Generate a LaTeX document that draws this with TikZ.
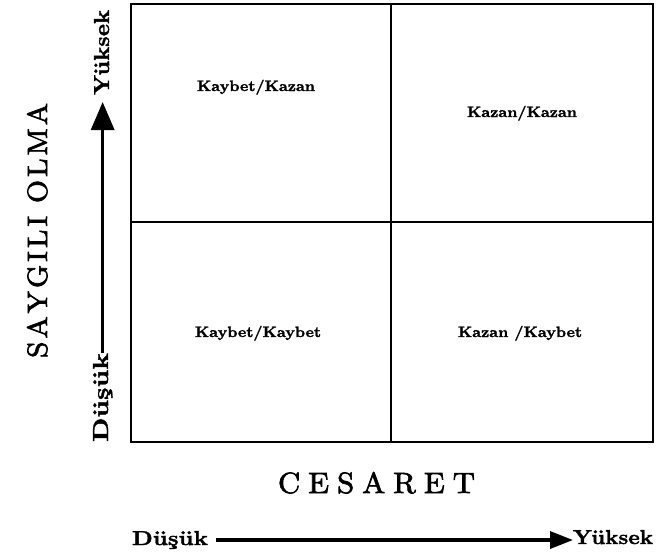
\documentclass[tikz,border=0pt]{standalone}
\usepackage{fontspec}
\usetikzlibrary{arrows.meta}
\newfontfamily\heavyfont{lmroman10-bold.otf}[FakeBold=1.6]
\newfontfamily\titlefont{lmroman10-regular.otf}[FakeBold=2.2]
\begin{document}
\begin{tikzpicture}[x=1pt,y=-1pt,
  frame/.style={line width=2pt},
  quad/.style={inner sep=0pt, anchor=base, font=\fontsize{15}{15}\selectfont\heavyfont},
  lbl/.style={inner sep=0pt, outer sep=0pt},
  haxis/.style={line width=3.3pt, -{Triangle[length=23pt,width=17pt]}},
  vaxis/.style={line width=3.3pt, -{Triangle[length=28pt,width=23pt]}},
]
\useasboundingbox (0,0) rectangle (656,554);
% grid
\draw[frame] (131,4) rectangle (653,442);
\draw[frame] (391,4) -- (391,442);
\draw[frame] (131,222) -- (653,222);
% quadrant labels
\node[quad] (q1) at (256,91) {\scalebox{1.06}[1]{Kaybet/Kazan}};
\node[quad] (q2) at (522,117) {\scalebox{1.06}[1]{Kazan/Kazan}};
\node[quad] (q3) at (258,337) {\scalebox{1.06}[1]{Kaybet/Kaybet}};
\node[quad] (q4) at (520,337) {\scalebox{1.06}[1]{Kazan /Kaybet}};
% vertical axis
\node[lbl, rotate=90, anchor=base west] (ylow) at (108,442) {\resizebox{89pt}{15pt}{\heavyfont Düşük}};
\node[lbl, rotate=90, anchor=base west] (yhigh) at (109,95) {\resizebox{85pt}{15pt}{\heavyfont Yüksek}};
\draw[vaxis, shorten >=7pt] (ylow.east) -- (ylow.east |- yhigh.west);
\node[lbl, rotate=90, anchor=base west] (ytitle) at (47,358) {\resizebox{255pt}{20pt}{\titlefont S\kern.1em A\kern.1em Y\kern.1em G\kern.1em I\kern.1em L\kern.1em I\kern.1em\ O\kern.1em L\kern.1em M\kern.1em A}};
% horizontal axis
\node[lbl, anchor=base west] (xtitle) at (278,493) {\resizebox{197pt}{21pt}{\titlefont C\kern.26em E\kern.26em S\kern.26em A\kern.26em R\kern.26em E\kern.26em T}};
\node[lbl, anchor=base west] (xlow) at (132,545) {\resizebox{76pt}{14pt}{\heavyfont Düşük}};
\node[lbl, anchor=base west] (xhigh) at (573,544) {\resizebox{80pt}{14pt}{\heavyfont Yüksek}};
\draw[haxis, shorten <=8pt] (xlow.east) -- (xlow.east -| xhigh.west);
\end{tikzpicture}
\end{document}
